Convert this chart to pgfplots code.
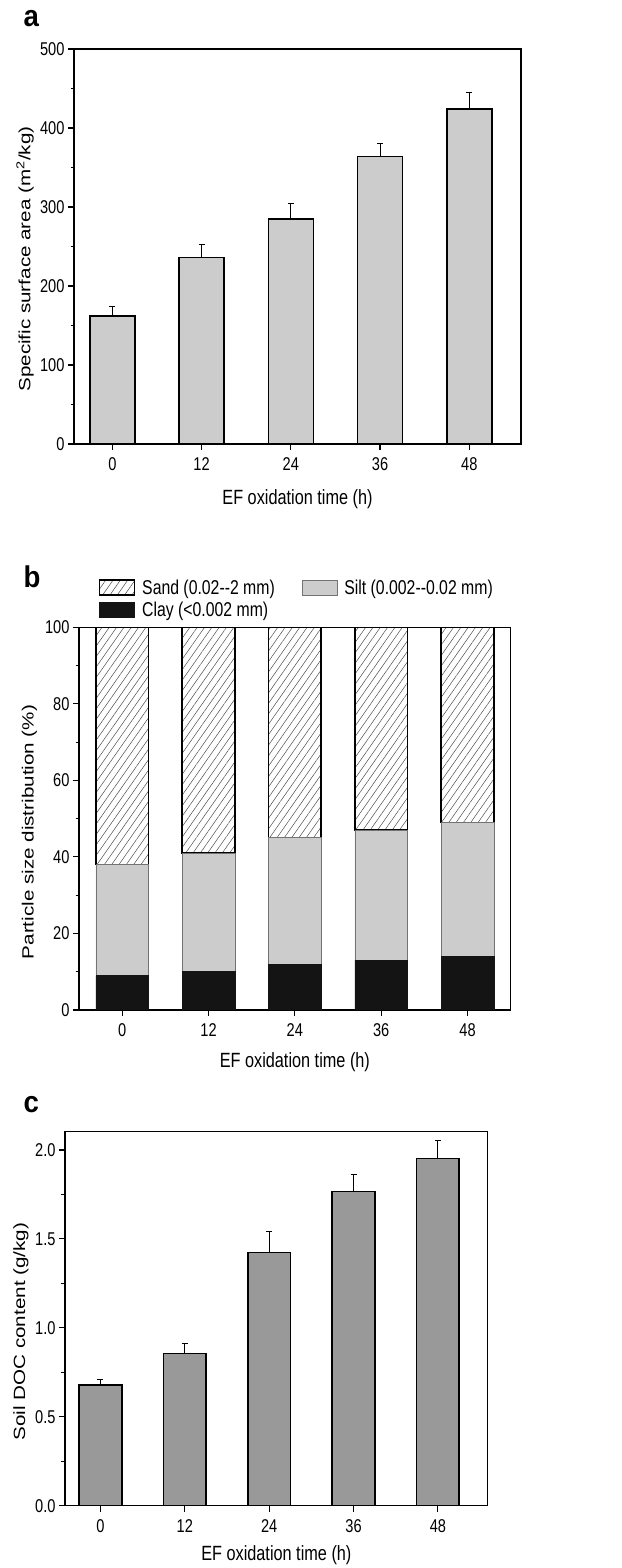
\documentclass[border=0pt]{standalone}
\usepackage{fontspec}
\setmainfont{Liberation Sans}[FakeStretch=0.79]
\newfontfamily\ylabfont{Liberation Sans}
\newfontfamily\letterfont{Liberation Sans}[FakeStretch=0.92]
\usepackage{graphicx}
\usepackage{pgfplots}
\pgfplotsset{compat=1.18}
\usetikzlibrary{patterns.meta}

\definecolor{barA}{HTML}{CCCCCC}
\definecolor{barC}{HTML}{999999}
\definecolor{siltc}{HTML}{CCCCCC}
\definecolor{clayc}{HTML}{141414}

\newcommand{\ylab}[1]{\ylabfont\scalebox{1}[0.79]{#1}}

\tikzset{plabel/.style={anchor=base west, font=\letterfont\bfseries\fontsize{30}{33}\selectfont}}

\pgfplotsset{
  panel/.style={
    scale only axis, anchor=south west,
    axis line style={line width=1.5pt},
    tick align=outside, tick pos=left,
    major tick length=6pt, minor tick length=3.5pt,
    every tick/.style={line width=1.1pt, black},
    tick label style={font=\fontsize{18.5}{20}\selectfont},
    xticklabel style={yshift=-4pt},
    label style={font=\fontsize{20.6}{23}\selectfont},
    /pgf/number format/assume math mode=true,
    xtick={0,1,2,3,4}, xticklabels={0,12,24,36,48},
    ymin=0,
    ylabel style={at={(axis description cs:0,0.465)}, anchor=center},
    xlabel={EF oxidation time (h)},
  },
  errs/.style={error bars/.cd, y dir=plus, y explicit,
    error bar style={line width=0.9pt, black},
    error mark options={rotate=90, mark size=3pt, line width=0.9pt, black}},
}

\begin{document}
\begin{tikzpicture}
\useasboundingbox (0,0) rectangle (621pt,1568pt);

% panel a
\node[plabel] at (20pt,1541pt) {a};
\begin{axis}[panel, at={(74pt,1124pt)}, width=447pt, height=395pt,
  xmin=-0.43, xmax=4.58, ymax=500, ytick={0,100,...,500}, minor y tick num=1,
  ybar, bar width=45pt,
  ylabel={\ylab{Specific surface area (m\textsuperscript{2}/kg)}},
  ylabel style={yshift=49pt, at={(axis description cs:0,0.468)}},
  xlabel style={at={(axis description cs:0.5,0)}, anchor=center, yshift=-55pt}]
\addplot[fill=barA, draw=black, line width=1.6pt, errs] coordinates {
  (0,162) +- (0,12)
  (1,236) +- (0,16)
  (2,285) +- (0,19)
  (3,364) +- (0,16)
  (4,424) +- (0,21)
};
\end{axis}

% panel b
\node[plabel] at (20pt,980pt) {b};
\begin{axis}[panel, at={(79pt,558pt)}, width=431.7pt, height=382.7pt,
  xmin=-0.5, xmax=4.5, ymax=100, ytick={0,20,...,100}, minor y tick num=1,
  ybar stacked, bar width=52.7pt,
  ylabel={\ylab{Particle size distribution (\%)}},
  ylabel style={yshift=49.5pt},
  xlabel style={at={(axis description cs:0.5,0)}, anchor=center, yshift=-52pt},
  reverse legend, legend columns=2, legend cell align=left,
  legend style={draw=none, fill=none, inner sep=0pt,
    at={(axis description cs:0.045,1.13)}, anchor=north west,
    font=\fontsize{20}{22}\selectfont, row sep=2pt,
    /tikz/every even column/.append style={column sep=25pt},
    /tikz/every odd column/.append style={column sep=5pt}},
  legend image code/.code={\draw[#1] (0pt,-7.5pt) rectangle (35pt,7.5pt);}]
\addplot[fill=clayc, draw=clayc, line width=0.5pt] coordinates {
  (0,9) (1,10) (2,12) (3,13) (4,14)};
\addplot[fill=siltc, draw=black!55, line width=0.6pt] coordinates {
  (0,29) (1,31) (2,33) (3,34) (4,35)};
\addplot[pattern={Lines[angle=55, distance=6pt, line width=0.5pt]}, pattern color=black!70,
  draw=black, line width=1.6pt] coordinates {
  (0,62) (1,59) (2,55) (3,53) (4,51)};
\legend{Clay (<0.002 mm), Silt (0.002-{}-0.02 mm), Sand (0.02-{}-2 mm)}
\end{axis}

% panel c
\node[plabel] at (20pt,455pt) {c};
\begin{axis}[panel, at={(65pt,62.3pt)}, width=422.7pt, height=374.4pt,
  xmin=-0.42, xmax=4.59, ymax=2.105, ytick={0,0.5,...,2.0}, minor y tick num=1,
  yticklabel style={/pgf/number format/.cd, fixed, fixed zerofill, precision=1},
  ybar, bar width=42.7pt,
  ylabel={\ylab{Soil DOC content (g/kg)}},
  ylabel style={yshift=44pt},
  xlabel style={at={(axis description cs:0.5,0)}, anchor=center, yshift=-49pt}]
\addplot[fill=barC, draw=black, line width=1.6pt, errs] coordinates {
  (0,0.680) +- (0,0.029)
  (1,0.855) +- (0,0.058)
  (2,1.423) +- (0,0.118)
  (3,1.766) +- (0,0.097)
  (4,1.951) +- (0,0.103)
};
\end{axis}
\end{tikzpicture}
\end{document}
